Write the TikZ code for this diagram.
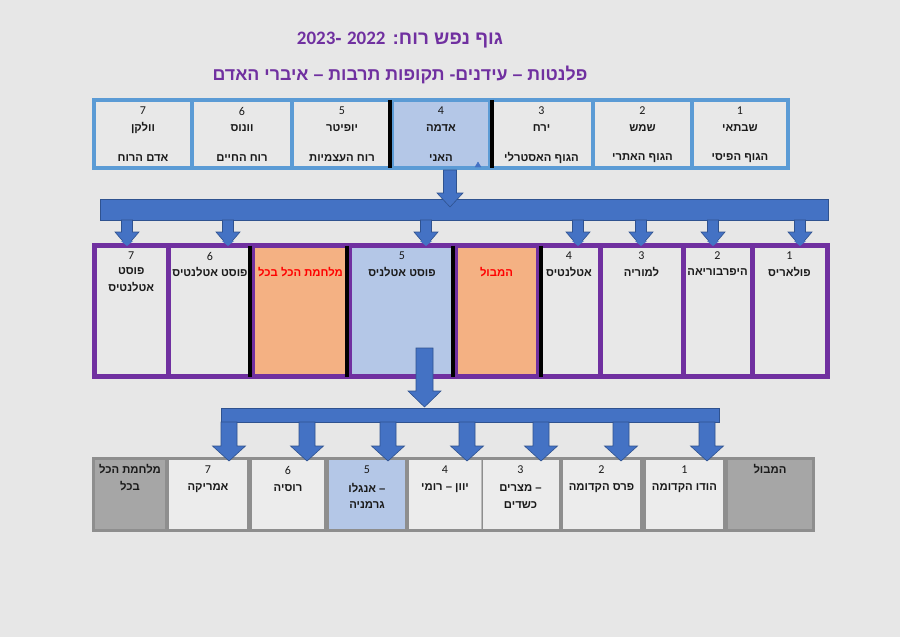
\documentclass[tikz,border=0pt]{standalone}
\usepackage{fontspec}
\setmainfont{Liberation Sans}
\newfontfamily\heb[Script=Hebrew]{Liberation Sans}
\newfontfamily\numf{Carlito}
\TeXXeTstate=1
\newcommand\RL[1]{\beginR#1\endR}
\definecolor{bgc}{HTML}{E7E7E7}
\definecolor{cellg}{HTML}{E8E8E8}
\definecolor{cellw}{HTML}{ECECEC}
\definecolor{tblue}{HTML}{5B9BD5}
\definecolor{lblue}{HTML}{B4C7E7}
\definecolor{mpurple}{HTML}{7030A0}
\definecolor{orng}{HTML}{F4B183}
\definecolor{redt}{HTML}{FF0000}
\definecolor{ablue}{HTML}{4472C4}
\definecolor{aedge}{HTML}{2F528F}
\definecolor{bgray}{HTML}{8E8E8E}
\definecolor{dgray}{HTML}{A6A6A6}
\definecolor{txt}{HTML}{1A1A1A}
\newcommand\blkarrow[6]{%
  \filldraw[ablue, draw=aedge, line width=0.6pt]
    ({#1-#5},#2) -- ({#1+#5},#2) -- ({#1+#5},#3) -- ({#1+#6},#3) -- (#1,#4)
    -- ({#1-#6},#3) -- ({#1-#5},#3) -- cycle;}
\begin{document}
\begin{tikzpicture}[x=1pt,y=-1pt,
  tcell/.style={draw=tblue, line width=4.5pt, fill=cellg, inner sep=0pt, minimum height=68pt},
  mcell/.style={draw=mpurple, line width=5pt, fill=cellg, inner sep=0pt, minimum height=131pt},
  bcell/.style={fill=cellw, inner sep=0pt, minimum height=69pt},
  num/.style={inner sep=0pt, text=txt, font=\numf\fontsize{12}{14}\selectfont},
  nm/.style={inner sep=0pt, text=txt, font=\heb\bfseries\fontsize{11.3}{13}\selectfont},
  rednm/.style={nm, text=redt},
  ttl/.style={inner sep=0pt, text=mpurple, font=\heb\bfseries}
]
\fill[bgc] (0,0) rectangle (900,637);
\useasboundingbox (0,0) rectangle (900,637);

% titles
\node[ttl, font=\heb\bfseries\fontsize{19}{23}\selectfont] (title1) at (400,40)
  {\RL{גוף נפש רוח: \beginL{\numf 2022}\endL{} -\beginL{\numf 2023}\endL}};
\node[ttl, font=\heb\bfseries\fontsize{17.8}{21}\selectfont] (title2) at (400,75)
  {\RL{פלנטות – עידנים- תקופות תרבות – איברי האדם}};

% top row
\node[tcell, minimum width=98pt]  (T7) at (143,134) {};
\node[tcell, minimum width=100pt] (T6) at (242,134) {};
\node[tcell, minimum width=100pt] (T5) at (342,134) {};
\node[tcell, minimum width=98pt, fill=lblue] (T4) at (441,134) {};
\node[tcell, minimum width=103pt] (T3) at (541.5,134) {};
\node[tcell, minimum width=99pt]  (T2) at (642.5,134) {};
\node[tcell, minimum width=96pt]  (T1) at (740,134) {};
\draw[black, line width=4pt] ([yshift=-2pt]T4.north west) -- ([yshift=2pt]T4.south west);
\draw[black, line width=4pt] ([yshift=-2pt]T4.north east) -- ([yshift=2pt]T4.south east);
\filldraw[ablue] (475,167) -- (481,167) -- (478,162) -- cycle;

\node[num] (T1a) at (740,111) {1};
\node[nm]  (T1b) at (740,128) {\RL{שבתאי}};
\node[nm]  (T1c) at (740,158) {\RL{הגוף הפיסי}};
\node[num] (T2a) at (642.5,111) {2};
\node[nm]  (T2b) at (642.5,128) {\RL{שמש}};
\node[nm]  (T2c) at (642.5,158) {\RL{הגוף האתרי}};
\node[num] (T3a) at (541.5,111) {3};
\node[nm]  (T3b) at (541.5,128) {\RL{ירח}};
\node[nm]  (T3c) at (541.5,158) {\RL{הגוף האסטרלי}};
\node[num] (T4a) at (441,111) {4};
\node[nm]  (T4b) at (441,128) {\RL{אדמה}};
\node[nm]  (T4c) at (441,158) {\RL{האני}};
\node[num] (T5a) at (342,111) {5};
\node[nm]  (T5b) at (342,128) {\RL{יופיטר}};
\node[nm]  (T5c) at (342,158) {\RL{רוח העצמיות}};
\node[num] (T6a) at (242,111) {6};
\node[nm]  (T6b) at (242,128) {\RL{וונוס}};
\node[nm]  (T6c) at (242,158) {\RL{רוח החיים}};
\node[num] (T7a) at (143,111) {7};
\node[nm]  (T7b) at (143,128) {\RL{וולקן}};
\node[nm]  (T7c) at (143,158) {\RL{אדם הרוח}};

% bar 1 and its arrows
\node[fill=ablue, draw=aedge, line width=0.6pt, inner sep=0pt, minimum width=728pt, minimum height=21pt] (bar1) at (464,209.5) {};
\blkarrow{450}{170}{193}{207}{6.5}{13}
\foreach \ax in {127,228,426,578,641,713,800}{\blkarrow{\ax}{220}{232}{246}{5.5}{12}}

% middle row
\node[mcell, minimum width=73.5pt] (M7) at (131.25,311) {};
\node[mcell, minimum width=84pt]   (M6) at (210,311) {};
\node[mcell, minimum width=97pt, fill=orng] (MW) at (300.5,311) {};
\node[mcell, minimum width=106pt, fill=lblue] (M5) at (402,311) {};
\node[mcell, minimum width=83pt, fill=orng] (MF) at (496.5,311) {};
\node[mcell, minimum width=62pt]   (M4) at (569,311) {};
\node[mcell, minimum width=83pt]   (M3) at (641.5,311) {};
\node[mcell, minimum width=69pt]   (M2) at (717.5,311) {};
\node[mcell, minimum width=75pt]   (M1) at (789.5,311) {};
\foreach \c in {MW,M5,MF}{\draw[black, line width=4pt] ([yshift=-2.5pt]\c.north west) -- ([yshift=2.5pt]\c.south west);}
\draw[black, line width=4pt] ([yshift=-2.5pt]MF.north east) -- ([yshift=2.5pt]MF.south east);
\foreach \ax in {127,228,426,578,641,713,800}{\fill[ablue] ({\ax-6},241) -- ({\ax+6},241) -- (\ax,246) -- cycle;}

\node[num] (M1a) at (789.5,256) {1};
\node[nm]  (M1b) at (789.5,272) {\RL{פולאריס}};
\node[num] (M2a) at (717.5,256) {2};
\node[nm]  (M2b) at (717.5,272) {\RL{היפרבוריאה}};
\node[num] (M3a) at (641.5,256) {3};
\node[nm]  (M3b) at (641.5,272) {\RL{למוריה}};
\node[num] (M4a) at (569,256) {4};
\node[nm]  (M4b) at (569,272) {\RL{אטלנטיס}};
\node[rednm] (MFb) at (496.5,272) {\RL{המבול}};
\node[num] (M5a) at (402,256) {5};
\node[nm]  (M5b) at (402,272) {\RL{פוסט אטלניס}};
\node[rednm] (MWb) at (300.5,272) {\RL{מלחמת הכל בכל}};
\node[num] (M6a) at (210,256) {6};
\node[nm]  (M6b) at (210,272) {\RL{פוסט אטלנטיס}};
\node[num] (M7a) at (131.25,256) {7};
\node[nm]  (M7b) at (131.25,271) {\RL{פוסט}};
\node[nm]  (M7c) at (131.25,287) {\RL{אטלנטיס}};

% arrow 2 and bar 2
\blkarrow{424.5}{348}{391}{407}{8.5}{16.5}
\node[fill=ablue, draw=aedge, line width=0.6pt, inner sep=0pt, minimum width=498pt, minimum height=14pt] (bar2) at (470,415) {};

% bottom row
\node[fill=bgray, inner sep=0pt, minimum width=723pt, minimum height=75pt] (BB) at (453.5,494.5) {};
\node[bcell, fill=dgray, minimum width=70pt] (BW) at (130,494.5) {};
\node[bcell, minimum width=78pt] (B7) at (208,494.5) {};
\node[bcell, minimum width=72pt] (B6) at (288,494.5) {};
\node[bcell, fill=lblue, minimum width=76pt] (B5) at (367,494.5) {};
\node[bcell, minimum width=72pt] (B4) at (445,494.5) {};
\node[bcell, minimum width=76pt] (B3) at (520.5,494.5) {};
\node[bcell, minimum width=77pt] (B2) at (601.5,494.5) {};
\node[bcell, minimum width=77pt] (B1) at (684.5,494.5) {};
\node[bcell, fill=dgray, minimum width=84pt] (BF) at (770,494.5) {};
\draw[bgray!60, line width=1pt] (B4.north east) -- (B4.south east);

\node[nm] (BWa) at (130,469) {\RL{מלחמת הכל}};
\node[nm] (BWb) at (130,486) {\RL{בכל}};
\node[num] (B7a) at (208,470) {7};
\node[nm]  (B7b) at (208,488) {\RL{אמריקה}};
\node[num] (B6a) at (288,470) {6};
\node[nm]  (B6b) at (288,488) {\RL{רוסיה}};
\node[num] (B5a) at (367,470) {5};
\node[nm]  (B5b) at (367,488) {\RL{אנגלו} –};
\node[nm]  (B5c) at (367,505) {\RL{גרמניה}};
\node[num] (B4a) at (445,470) {4};
\node[nm]  (B4b) at (445,488) {\RL{יוון – רומי}};
\node[num] (B3a) at (520.5,470) {3};
\node[nm]  (B3b) at (520.5,488) {\RL{מצרים} –};
\node[nm]  (B3c) at (520.5,505) {\RL{כשדים}};
\node[num] (B2a) at (601.5,470) {2};
\node[nm]  (B2b) at (601.5,488) {\RL{פרס הקדומה}};
\node[num] (B1a) at (684.5,470) {1};
\node[nm]  (B1b) at (684.5,488) {\RL{הודו הקדומה}};
\node[nm]  (BFa) at (770,469) {\RL{המבול}};

\foreach \ax in {229,307,388,467,541,621,707}{\blkarrow{\ax}{422}{446}{461}{8}{16.5}}
\end{tikzpicture}
\end{document}
